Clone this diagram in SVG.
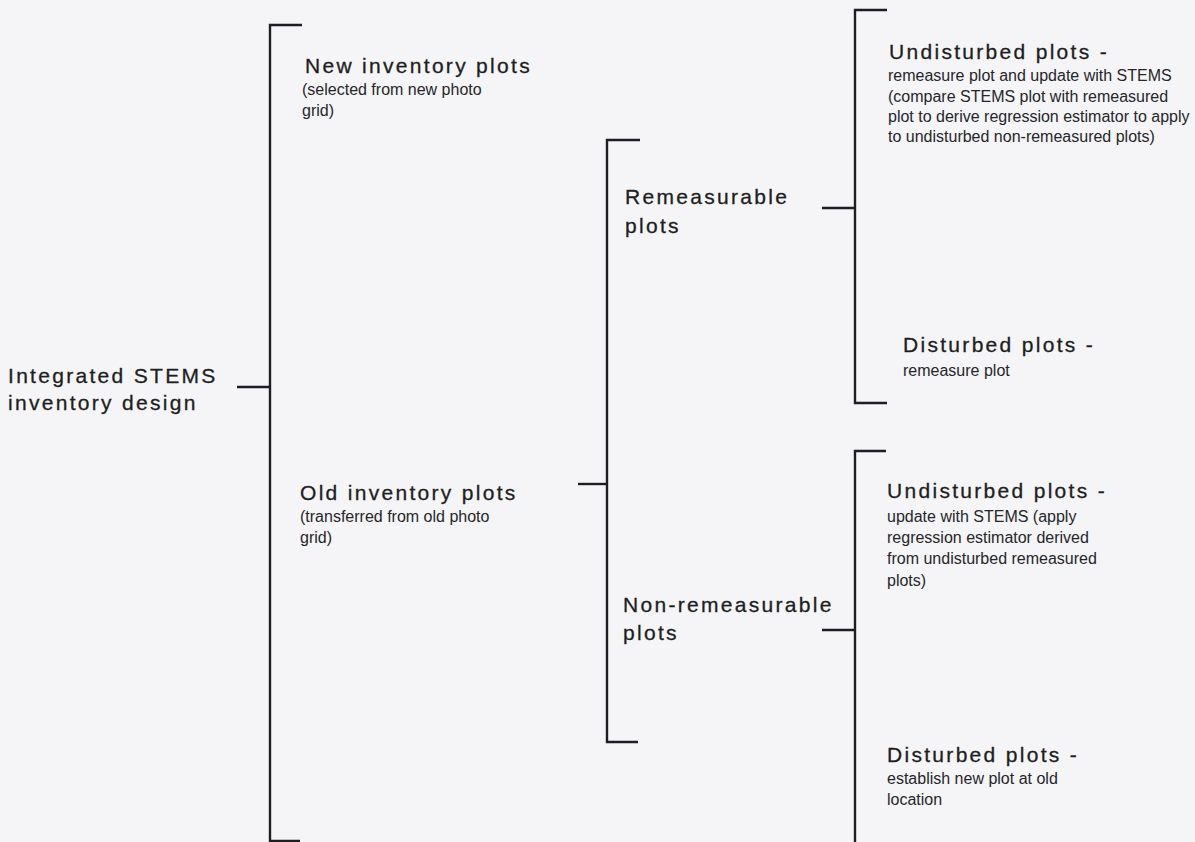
<svg xmlns="http://www.w3.org/2000/svg" width="1195" height="842" viewBox="0 0 1195 842">
<style>
.bg{fill:#f5f5f7}
.ln{stroke:#1e1e22;stroke-width:2.4;fill:none;stroke-linecap:butt}
.t{font-family:"Liberation Sans",Arial,sans-serif;font-size:21px;letter-spacing:2.3px;fill:#1e1e22;stroke:#1e1e22;stroke-width:0.3}
.s{font-family:"Liberation Sans",Arial,sans-serif;font-size:16px;fill:#26262a}
</style>
<rect class="bg" x="0" y="0" width="1195" height="842"/>
<g id="connectors">
<path class="ln" d="M302,25 H270 V841 H300"/>
<path class="ln" d="M237,387 H270"/>
<path class="ln" d="M640,140 H607 V742 H638"/>
<path class="ln" d="M578,484 H607"/>
<path class="ln" d="M887,10 H855 V403 H887"/>
<path class="ln" d="M822,208 H855"/>
<path class="ln" d="M886,451 H855 V842"/>
<path class="ln" d="M822,630 H855"/>
</g>
<g id="root">
<text class="t" x="8" y="383">Integrated STEMS</text>
<text class="t" x="8" y="410">inventory design</text>
</g>
<g id="new-plots">
<text class="t" x="305" y="73">New inventory plots</text>
<text class="s" x="302" y="95">(selected from new photo</text>
<text class="s" x="302" y="116">grid)</text>
</g>
<g id="old-plots">
<text class="t" x="300" y="500">Old inventory plots</text>
<text class="s" x="300" y="522">(transferred from old photo</text>
<text class="s" x="300" y="543">grid)</text>
</g>
<g id="remeasurable">
<text class="t" x="625" y="204">Remeasurable</text>
<text class="t" x="625" y="233">plots</text>
</g>
<g id="non-remeasurable">
<text class="t" x="623" y="612">Non-remeasurable</text>
<text class="t" x="623" y="640">plots</text>
</g>
<g id="undisturbed-remeasured">
<text class="t" x="889" y="59">Undisturbed plots -</text>
<text class="s" x="888" y="81">remeasure plot and update with STEMS</text>
<text class="s" x="888" y="101.5">(compare STEMS plot with remeasured</text>
<text class="s" x="888" y="122">plot to derive regression estimator to apply</text>
<text class="s" x="888" y="142">to undisturbed non-remeasured plots)</text>
</g>
<g id="disturbed-remeasured">
<text class="t" x="903" y="352">Disturbed plots -</text>
<text class="s" x="903" y="376">remeasure plot</text>
</g>
<g id="undisturbed-non">
<text class="t" x="887" y="498">Undisturbed plots -</text>
<text class="s" x="887" y="522">update with STEMS (apply</text>
<text class="s" x="887" y="543">regression estimator derived</text>
<text class="s" x="887" y="564">from undisturbed remeasured</text>
<text class="s" x="887" y="586">plots)</text>
</g>
<g id="disturbed-non">
<text class="t" x="887" y="762">Disturbed plots -</text>
<text class="s" x="887" y="784">establish new plot at old</text>
<text class="s" x="887" y="805">location</text>
</g>
</svg>
